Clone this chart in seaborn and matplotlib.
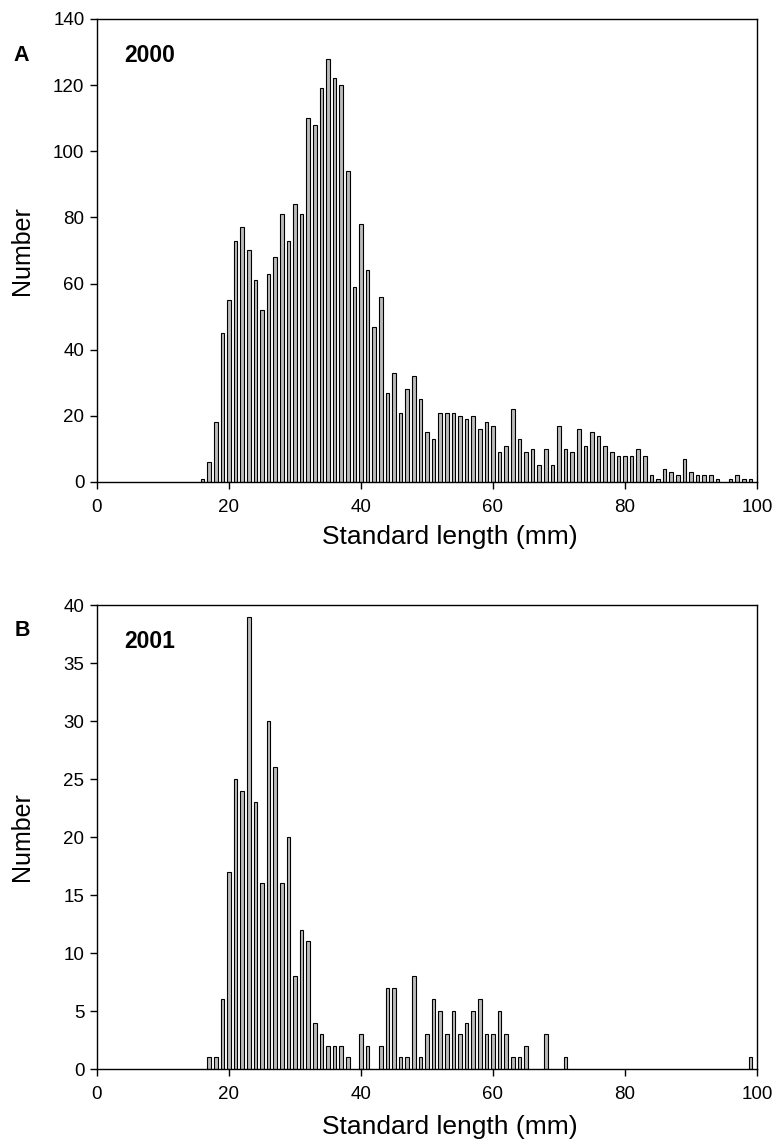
import matplotlib
matplotlib.use("Agg")
import matplotlib.pyplot as plt
import pandas as pd
import seaborn as sns

# Length-frequency counts (standard length in mm, 1-mm classes)
length_2000 = list(range(16, 95)) + [96, 97, 98, 99]
count_2000 = [1, 6, 18, 45, 55, 73, 77, 70, 61, 52,
              63, 68, 81, 73, 84, 81, 110, 108, 119, 128,
              122, 120, 94, 59, 78, 64, 47, 56, 27, 33,
              21, 28, 32, 25, 15, 13, 21, 21, 21, 20,
              19, 20, 16, 18, 17, 9, 11, 22, 13, 9,
              10, 5, 10, 5, 17, 10, 9, 16, 11, 15,
              14, 11, 9, 8, 8, 8, 10, 8, 2, 1,
              4, 3, 2, 7, 3, 2, 2, 2, 1,
              1, 2, 1, 1]

length_2001 = [17, 18, 19, 20, 21, 22, 23, 24, 25, 26,
               27, 28, 29, 30, 31, 32, 33, 34, 35, 36,
               37, 38, 40, 41, 43, 44, 45, 46, 47, 48,
               49, 50, 51, 52, 53, 54, 55, 56, 57, 58,
               59, 60, 61, 62, 63, 64, 65, 68, 71, 99]
count_2001 = [1, 1, 6, 17, 25, 24, 39, 23, 16, 30,
              26, 16, 20, 8, 12, 11, 4, 3, 2, 2,
              2, 1, 3, 2, 2, 7, 7, 1, 1, 8,
              1, 3, 6, 5, 3, 5, 3, 4, 5, 6,
              3, 3, 5, 3, 1, 1, 2, 3, 1, 1]

years = ["2000", "2001"]
panel_letters = ["A", "B"]
y_ticks = [list(range(0, 141, 20)), list(range(0, 41, 5))]
x_ticks = [0, 20, 40, 60, 80, 100]

sns.set_style("ticks")
plt.rcParams["font.family"] = ["Liberation Sans", "DejaVu Sans"]
plt.rcParams["axes.linewidth"] = 1.0
plt.rcParams["text.color"] = "black"
plt.rcParams["axes.labelcolor"] = "black"
plt.rcParams["xtick.color"] = "black"
plt.rcParams["ytick.color"] = "black"

fig = plt.figure(figsize=(7.77, 11.47), dpi=100)
ax_top = fig.add_axes([0.1248, 0.5798, 0.8494, 0.4037])
ax_bot = fig.add_axes([0.1248, 0.0680, 0.8494, 0.4045])

frames = [
    pd.DataFrame({"length": length_2000, "count": count_2000}),
    pd.DataFrame({"length": length_2001, "count": count_2001}),
]
xlabel_y = [-0.092, -0.100]

for ax, df, yr, yt, ly in zip([ax_top, ax_bot], frames, years,
                              y_ticks, xlabel_y):
    sns.barplot(data=df, x="length", y="count", native_scale=True,
                width=0.55, color="#bbbbbb", saturation=1,
                edgecolor="black", linewidth=0.8, errorbar=None, ax=ax)
    ax.set_xlim(0, 100)
    ax.set_ylim(yt[0], yt[-1])
    ax.set_xticks(x_ticks)
    ax.set_yticks(yt)
    ax.tick_params(axis="both", direction="out", length=5, width=1,
                   labelsize=13.5, color="black", labelcolor="black")
    ax.tick_params(axis="x", pad=7)
    ax.tick_params(axis="y", pad=4)
    for sp in ax.spines.values():
        sp.set_visible(True)
        sp.set_color("black")
        sp.set_linewidth(1.0)
    ax.set_xlabel("Standard length (mm)", fontsize=19, color="black")
    ax.set_ylabel("Number", fontsize=18, color="black")
    ax.yaxis.set_label_coords(-0.095, 0.5)
    ax.xaxis.set_label_coords(0.535, ly)
    ax.text(0.042, 0.922, yr, transform=ax.transAxes, fontsize=16.5,
            fontweight="bold", ha="left", va="center", color="black")

fig.text(0.017, 0.952, panel_letters[0], fontsize=15.5, fontweight="bold",
         ha="left", va="center", color="black")
fig.text(0.019, 0.450, panel_letters[1], fontsize=15.5, fontweight="bold",
         ha="left", va="center", color="black")

fig.savefig("out.png", dpi=100)
